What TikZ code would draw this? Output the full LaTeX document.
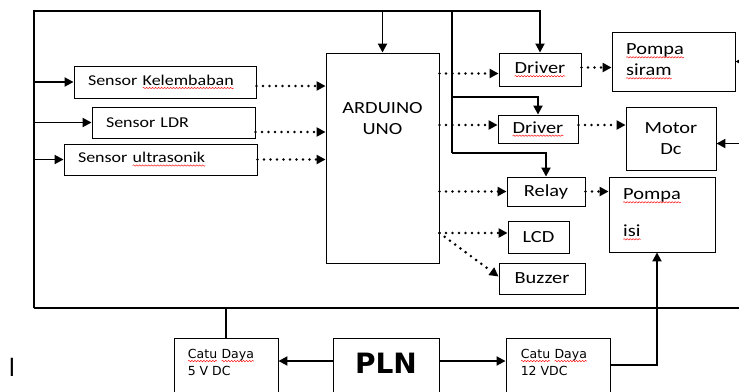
\documentclass[tikz,border=0pt]{standalone}
\usepackage{fontspec}
\setmainfont{Carlito}[FakeStretch=1.2]
\newfontfamily\dvfont{DejaVu Sans}
\usetikzlibrary{arrows.meta,decorations.pathmorphing}
\newcommand\redwave[1]{\tikz[baseline=(w.base)]{\node[inner sep=0pt,outer sep=0pt,draw=none,text width={},minimum width=0pt,minimum height=0pt] (w) {#1};
  \draw[red,line width=0.45pt,decorate,decoration={snake,amplitude=0.7pt,segment length=3pt}] ([yshift=-2.6pt]w.base west) -- ([yshift=-2.6pt]w.base east);}}
\newcommand\bigtxt{\fontsize{17}{21}\selectfont}
\newcommand\sentxt{\fontsize{15}{18}\selectfont}
\newcommand\catutxt{\dvfont\fontsize{12.5}{17}\selectfont}
\begin{document}
\begin{tikzpicture}[x=1pt,y=-1pt,
  box/.style={draw,line width=0.9pt,inner sep=0pt,font=\bigtxt},
  lbox/.style={box,align=left,text width=#1,inner xsep=14pt},
  bus/.style={line width=1.9pt},
  pw/.style={bus,-{Triangle[length=9pt,width=9pt]}},
  sig/.style={line width=2.9pt,dash pattern=on 0pt off 6.5pt,line cap=round,-{Triangle[length=9pt,width=9pt]}}]
\useasboundingbox (0,0) rectangle (739,391);
\clip (0,0) rectangle (739,391);
\coordinate (tl) at (34,11);
\coordinate (bl) at (34,308);
\coordinate (br) at (748,308);
\coordinate (vtop) at (452,11);
\coordinate (vb1) at (452,97);
\coordinate (vb2) at (452,153);
\node[lbox=154pt,minimum height=32pt,font=\sentxt] (sk) at (165,82) {Sensor \redwave{Kelembaban}};
\node[lbox=135pt,minimum height=31pt,font=\sentxt] (sl) at (173.5,122.5) {Sensor LDR};
\node[lbox=165pt,minimum height=31pt,font=\sentxt] (su) at (160.5,159.5) {Sensor \redwave{ultrasonik}};
\node[box,minimum width=113pt,minimum height=210pt,
  label={[inner sep=0pt,anchor=north,yshift=-50pt,align=center,font=\bigtxt]north:ARDUINO\\UNO}] (ard) at (382.5,158) {};
\node[box,minimum width=82pt,minimum height=33pt] (drv1) at (540,69.5) {\redwave{Driver}};
\node[box,minimum width=80pt,minimum height=28pt] (drv2) at (538,129) {\redwave{Driver}};
\node[box,minimum width=78pt,minimum height=29pt] (relay) at (546,191.5) {Relay};
\node[box,minimum width=61pt,minimum height=32pt] (lcd) at (538.5,237) {LCD};
\node[box,minimum width=86pt,minimum height=31pt] (buzz) at (542,278.5) {Buzzer};
\node[lbox=95pt,minimum height=59pt] (ps) at (673.5,61.5) {\redwave{Pompa}\\\redwave{siram}};
\node[box,minimum width=90pt,minimum height=63pt,align=center] (motor) at (671,138.5) {Motor\\Dc};
\node[lbox=78pt,minimum height=75pt] (pi) at (662,214.5) {\redwave{Pompa}\\[16pt]\redwave{isi}};
\node[box,anchor=north,minimum width=104pt,minimum height=70pt,
  label={[anchor=north west,inner sep=0pt,align=left,font=\catutxt,xshift=14pt,yshift=-11pt]north west:\redwave{Catu} \redwave{Daya}\\5 V DC}] (catu5) at (226,338) {};
\node[box,anchor=north,minimum width=106pt,minimum height=70pt,
  label={[anchor=north,inner sep=0pt,font=\dvfont\bfseries\fontsize{28}{30}\selectfont,yshift=-15pt]north:PLN}] (pln) at (386,338) {};
\node[box,anchor=north,minimum width=104pt,minimum height=70pt,
  label={[anchor=north west,inner sep=0pt,align=left,font=\catutxt,xshift=15pt,yshift=-11pt]north west:\redwave{Catu} \redwave{Daya}\\12 VDC}] (catu12) at (558,338) {};
\node[font=\dvfont\fontsize{24}{26}\selectfont,inner sep=0pt] (mark) at (12,367.5) {l};
\draw[pw] (bl) -- (tl) -| (drv1.north);
\draw[bus] (bl) -- (br) -- (br |- ps.east);
\draw[pw] (br |- ps.east) -- (ps.east);
\draw[pw] ([yshift=-5pt]br |- motor.east) -- ([yshift=-5pt]motor.east);
\draw[pw] (tl |- sk.west) -- (sk.west);
\draw[pw] (tl |- sl.west) -- (sl.west);
\draw[pw] (tl |- su.west) -- (su.west);
\draw[pw] (ard.north |- tl) -- (ard.north);
\draw[bus] (vtop) -- (vb2);
\draw[pw] (vb1) -| (drv2.north);
\draw[pw] (vb2) -| (relay.north);
\draw[sig] ([yshift=-4pt]sk.east) -- ([yshift=-4pt]sk.east -| ard.west);
\draw[sig] ([yshift=-9.5pt]sl.east) -- ([yshift=-9.5pt]sl.east -| ard.west);
\draw[sig] (su.east) -- (su.east -| ard.west);
\draw[sig] ([yshift=-4pt]ard.east |- drv1.west) -- ([yshift=-4pt]drv1.west);
\draw[sig] ([yshift=4pt]ard.east |- drv2.west) -- ([yshift=4pt]drv2.west);
\draw[sig] (ard.east |- relay.west) -- (relay.west);
\draw[sig] ([yshift=4pt]ard.east |- lcd.west) -- ([yshift=4pt]lcd.west);
\draw[sig] ([yshift=4pt]ard.east |- lcd.west) -- ([yshift=2pt]buzz.west);
\draw[sig] ([yshift=2pt]drv1.east) -- ([yshift=2pt]drv1.east -| ps.west);
\draw[sig] ([yshift=4pt]drv2.east) -- ([yshift=4pt]drv2.east -| motor.west);
\draw[sig] (relay.east) -- (relay.east -| pi.west);
\draw[bus] (catu5.north) -- (catu5.north |- bl);
\draw[pw] ([yshift=-23pt]pln.north west) -- ([yshift=-23pt]pln.north west -| catu5.east);
\draw[pw] ([yshift=-23pt]pln.north east) -- ([yshift=-23pt]pln.north east -| catu12.west);
\draw[pw] ([yshift=-27pt]catu12.north east) -| ([xshift=-5pt]pi.south);
\end{tikzpicture}
\end{document}
